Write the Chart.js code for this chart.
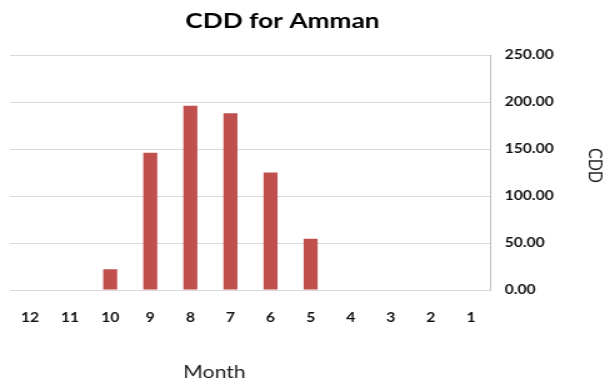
<!DOCTYPE html>
<html>
<head>
<meta charset="utf-8">
<script src="https://cdn.jsdelivr.net/npm/chart.js@4"></script>
<style>
  html, body { margin: 0; padding: 0; background: #fff; overflow: hidden; }
  /* the chart is drawn narrow and widened, giving the broad lettering of the printed figure */
  #wrap { width: 484px; height: 387px; transform: scaleX(1.25); transform-origin: 0 0; }
</style>
</head>
<body>
<div id="wrap"><canvas id="c" width="484" height="387"></canvas></div>
<script>
// Months are listed from December back to January
const months = ['12', '11', '10', '9', '8', '7', '6', '5', '4', '3', '2', '1'];
// Cooling degree days per month
const cdd = [0, 0, 22, 146, 196, 188, 125, 54.5, 0, 0, 0, 0];
const yMin = 0;
const yMax = 250;
const yStep = 50;

const chartTitle = 'CDD for Amman';
const xTitle = 'Month';
const yTitle = 'CDD';

// Chart title and the two axis captions drawn as free text
const freeText = {
  id: 'freeText',
  afterDraw(chart) {
    const { ctx, chartArea } = chart;
    ctx.save();
    ctx.textAlign = 'center';
    ctx.textBaseline = 'middle';
    ctx.fillStyle = '#000';
    ctx.font = 'bold 21px Lato';
    ctx.fillText(chartTitle, 226, 21);
    ctx.fillStyle = '#222';
    ctx.font = '17px Lato';
    ctx.fillText(xTitle, chartArea.left + (chartArea.right - chartArea.left) * 0.425, 373);
    // vertical caption beside the value axis, reading top to bottom
    ctx.font = '16px Lato';
    ctx.translate(chart.width - 7.5, chartArea.top + (chartArea.bottom - chartArea.top) * 0.47);
    ctx.rotate(Math.PI / 2);
    ctx.fillText(yTitle, 0, 0);
    ctx.restore();
  }
};

new Chart(document.getElementById('c'), {
  type: 'bar',
  data: {
    labels: months,
    datasets: [{
      label: yTitle,
      data: cdd,
      backgroundColor: '#c0504d',
      borderWidth: 0,
      categoryPercentage: 0.7,
      barPercentage: 0.5
    }]
  },
  options: {
    responsive: false,
    animation: false,
    devicePixelRatio: 1,
    layout: { padding: { left: 8, top: 55, right: 0, bottom: 0 } },
    plugins: {
      legend: { display: false },
      title: { display: false },
      tooltip: { enabled: false }
    },
    scales: {
      x: {
        grid: { display: false },
        border: { display: false },
        ticks: {
          color: '#111',
          font: { family: 'Lato', weight: 'bold', size: 12.5 },
          padding: 12,
          maxRotation: 0
        },
        afterFit(s) { s.height = 97; }
      },
      y: {
        position: 'right',
        min: yMin,
        max: yMax,
        ticks: {
          stepSize: yStep,
          callback: v => Number(v).toFixed(2),
          color: '#111',
          font: { family: 'Lato', weight: 'bold', size: 12.5 },
          padding: 11
        },
        grid: { color: '#d9d9d9', drawTicks: false },
        border: { display: true, color: '#bfbfbf' },
        afterFit(s) { s.width = 91.2; }
      }
    }
  },
  plugins: [freeText]
});
</script>
</body>
</html>
